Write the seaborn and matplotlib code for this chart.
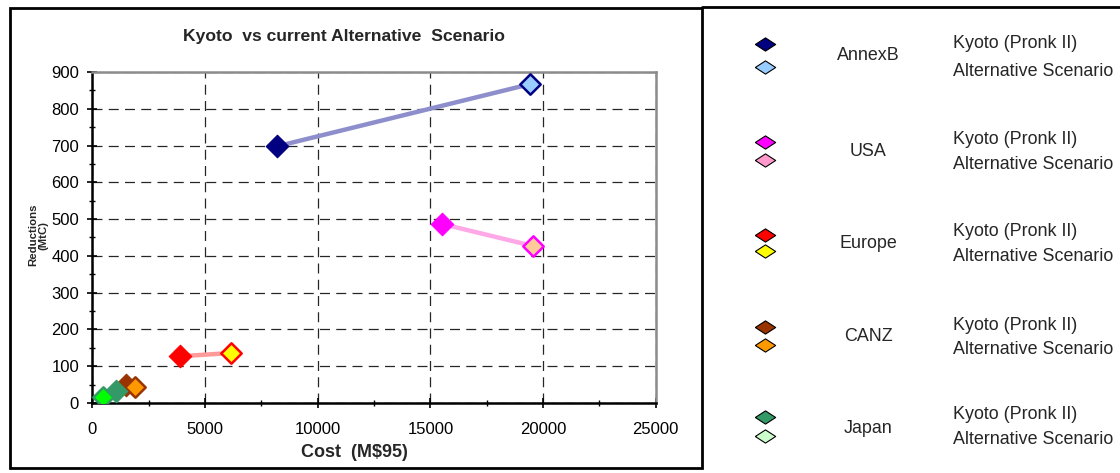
import matplotlib
matplotlib.use("Agg")
import matplotlib.pyplot as plt
import seaborn as sns
import pandas as pd
from matplotlib.lines import Line2D
from matplotlib.patches import Rectangle

sns.set_theme(style="white")
plt.rcParams['font.family'] = ['Liberation Sans', 'DejaVu Sans']

regions = ["AnnexB", "USA", "Europe", "CANZ", "Japan"]
kyoto_cost = [8200, 15500, 3890, 1480, 1040]
kyoto_red = [698, 487, 127, 49, 33]
alt_cost = [19420, 19550, 6150, 1890, 470]
alt_red = [867, 427, 136, 44, 16]

kyoto_face = ["#000080", "#FF00FF", "#FF0000", "#993300", "#339966"]
alt_face = ["#99CCFF", "#FFCC99", "#FFFF00", "#FF9900", "#00FF00"]
alt_edge = ["#000080", "#FF00FF", "#FF0000", "#993300", "#339966"]
legend_alt_face = ["#99CCFF", "#FF99CC", "#FFFF00", "#FF9900", "#CCFFCC"]
line_colors = ["#8E8ECC", "#FFA8E8", "#FF9A9A", None, None]

x_ticks = [0, 5000, 10000, 15000, 20000, 25000]
y_ticks = [0, 100, 200, 300, 400, 500, 600, 700, 800, 900]

rows = []
for i, r in enumerate(regions):
    rows.append(dict(region=r, scenario="Kyoto (Pronk II)", cost=kyoto_cost[i], red=kyoto_red[i]))
    rows.append(dict(region=r, scenario="Alternative Scenario", cost=alt_cost[i], red=alt_red[i]))
df = pd.DataFrame(rows)

W, H = 1120, 473
fig = plt.figure(figsize=(W / 100, H / 100), dpi=100)
ax = fig.add_axes([92.3 / W, 1 - 403 / H, 563.5 / W, 331 / H])

# connecting lines
for i, r in enumerate(regions):
    if line_colors[i] is None:
        continue
    sub = df[df.region == r]
    sns.lineplot(data=sub, x="cost", y="red", sort=False, ax=ax, color=line_colors[i],
                 linewidth=3.2, legend=False, zorder=2, estimator=None)

# markers
for i, r in enumerate(regions):
    sub = df[df.region == r]
    k = sub[sub.scenario == "Kyoto (Pronk II)"]
    a = sub[sub.scenario == "Alternative Scenario"]
    sns.scatterplot(data=k, x="cost", y="red", ax=ax, marker="D", s=132,
                    color=kyoto_face[i], edgecolor=kyoto_face[i], linewidth=0.8, zorder=3, legend=False)
    sns.scatterplot(data=a, x="cost", y="red", ax=ax, marker="D", s=108,
                    color=alt_face[i], edgecolor=alt_edge[i], linewidth=1.8, zorder=3, legend=False)

ax.set_xlim(0, 25000)
ax.set_ylim(0, 900)
ax.set_xticks(x_ticks)
ax.set_yticks(y_ticks)
ax.set_xticks([2500 * k for k in range(11)], minor=True)
ax.set_yticks([50 * k for k in range(19)], minor=True)
ax.set_xticklabels([str(v) for v in x_ticks], fontsize=12)
ax.set_yticklabels([str(v) for v in y_ticks], fontsize=12)
ax.tick_params(axis="both", which="major", direction="inout", length=7, width=1.2,
               colors="black", bottom=True, left=True)
ax.tick_params(axis="x", which="major", pad=10)
ax.tick_params(axis="y", which="major", pad=6)
ax.tick_params(axis="both", which="minor", direction="inout", length=5, width=1.0,
               colors="black", bottom=True, left=True)
ax.grid(True, which="major", color="black", linestyle=(0, (8, 5)), linewidth=0.9, alpha=0.85)
ax.set_axisbelow(True)
for s in ["left", "bottom"]:
    ax.spines[s].set_color("black")
    ax.spines[s].set_linewidth(1.8)
for s in ["top", "right"]:
    ax.spines[s].set_color("#8C8C8C")
    ax.spines[s].set_linewidth(1.8)
ax.set_xlabel("")
ax.set_ylabel("")

fig.text(344 / W, 1 - 37 / H, "Kyoto  vs current Alternative  Scenario", ha="center", va="center",
         fontsize=12.6, fontweight="bold")
fig.text(354 / W, 1 - 452 / H, "Cost  (M$95)", ha="center", va="center", fontsize=13, fontweight="bold")
fig.text(38 / W, 1 - 235 / H, "Reductions\n(MtC)", ha="center", va="center", rotation=90,
         fontsize=8.2, fontweight="bold", linespacing=1.0)

# frame lines
fig.add_artist(Rectangle((10 / W, 1 - 468 / H), 692 / W, 460 / H, transform=fig.transFigure,
                         fill=False, edgecolor="black", linewidth=2))
fig.add_artist(Line2D([702 / W, 1.0], [1 - 7 / H, 1 - 7 / H], transform=fig.transFigure,
                      color="black", linewidth=2))

# legend panel
lax = fig.add_axes([0, 0, 1, 1], facecolor="none")
lax.set_xlim(0, W)
lax.set_ylim(H, 0)
lax.axis("off")
flat_diamond = [(-1, 0), (0, 0.65), (1, 0), (0, -0.65), (-1, 0)]
kyoto_y = [44, 142, 235, 327, 417]
alt_y = [67, 160, 251, 345, 436]
name_y = [56, 151, 243, 336, 428]
txt_k_y = [44, 139, 231, 325, 414]
txt_a_y = [71, 164, 256, 349, 439]
for i, r in enumerate(regions):
    lax.scatter([765], [kyoto_y[i]], marker=flat_diamond, s=215, c=kyoto_face[i],
                edgecolors="black", linewidths=0.8)
    lax.scatter([765], [alt_y[i]], marker=flat_diamond, s=215, c=legend_alt_face[i],
                edgecolors="black", linewidths=0.8)
    lax.text(868, name_y[i], r, ha="center", va="center", fontsize=12.9)
    lax.text(953, txt_k_y[i], "Kyoto (Pronk II)", ha="left", va="center", fontsize=12.9)
    lax.text(953, txt_a_y[i], "Alternative Scenario", ha="left", va="center", fontsize=12.9)

fig.savefig("out.png", dpi=100)
